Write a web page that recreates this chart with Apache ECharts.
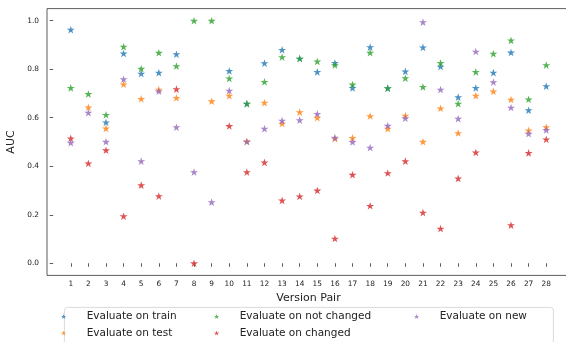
<!DOCTYPE html>
<html>
<head>
<meta charset="utf-8">
<script src="https://cdn.jsdelivr.net/npm/echarts@6/dist/echarts.min.js"></script>
<style>
  html, body { margin: 0; padding: 0; background: #fff; }
  #chart { width: 566px; height: 342px; }
</style>
</head>
<body>
<div id="chart"></div>
<script>
const versionPairs = [1, 2, 3, 4, 5, 6, 7, 8, 9, 10, 11, 12, 13, 14, 15, 16, 17, 18, 19, 20, 21, 22, 23, 24, 25, 26, 27, 28]
const yTicks = [0, 0.2, 0.4, 0.6, 0.8, 1.0]

const evalTrain = [0.963, null, 0.581, 0.865, 0.782, 0.786, 0.862, null, null, 0.793, 0.658, 0.825, 0.880, 0.844,
  0.789, 0.826, 0.723, 0.891, 0.722, 0.791, 0.890, 0.811, 0.685, 0.723, 0.786, 0.869, 0.631, 0.730]
const evalTest = [null, 0.643, 0.556, 0.738, 0.678, 0.716, 0.682, null, 0.668, 0.691, 0.503, 0.662, 0.576, 0.623,
  0.600, 0.514, 0.517, 0.607, 0.555, 0.609, 0.501, 0.639, 0.537, 0.691, 0.709, 0.675, 0.548, 0.561]
const evalNotChanged = [0.723, 0.698, 0.612, 0.893, 0.802, 0.868, 0.813, 1.0, 1.0, 0.762, 0.658, 0.748, 0.850, 0.844,
  0.832, 0.817, 0.737, 0.868, 0.722, 0.763, 0.727, 0.826, 0.658, 0.789, 0.864, 0.919, 0.676, 0.817]
const evalChanged = [0.515, 0.412, 0.466, 0.194, 0.322, 0.277, 0.718, 0.0, null, 0.566, 0.376, 0.416, 0.259, 0.276,
  0.300, 0.102, 0.365, 0.237, 0.372, 0.421, 0.209, 0.143, 0.350, 0.457, null, 0.157, 0.455, 0.511]
const evalNew = [0.497, 0.621, 0.501, 0.759, 0.421, 0.709, 0.561, 0.376, 0.252, 0.712, 0.501, 0.555, 0.588, 0.590,
  0.616, 0.518, 0.500, 0.477, 0.567, 0.598, 0.994, 0.716, 0.596, 0.873, 0.747, 0.642, 0.534, 0.550]

const STAR = 'path://M100,0 L122.45,69.1 L195.1,69.1 L136.3,111.8 L158.8,180.9 L100,138.2 L41.2,180.9 L63.7,111.8 L4.9,69.1 L77.55,69.1 Z'
const FONT = 'DejaVu Sans'

const seriesDefs = [
  { name: 'Evaluate on train', values: evalTrain, color: '#1f77b4' },
  { name: 'Evaluate on test', values: evalTest, color: '#ff7f0e' },
  { name: 'Evaluate on not changed', values: evalNotChanged, color: '#2ca02c' },
  { name: 'Evaluate on changed', values: evalChanged, color: '#d62728' },
  { name: 'Evaluate on new', values: evalNew, color: '#9467bd' },
]

// legend laid out like matplotlib ncol=3: one small legend per entry
const legendSpots = [
  { name: 'Evaluate on train', left: 61, top: 310.5 },
  { name: 'Evaluate on test', left: 61, top: 327 },
  { name: 'Evaluate on not changed', left: 214, top: 310.5 },
  { name: 'Evaluate on changed', left: 214, top: 327 },
  { name: 'Evaluate on new', left: 414, top: 310.5 },
]

const chart = echarts.init(document.getElementById('chart'))

const option = {
  animation: false,
  textStyle: { fontFamily: FONT },
  grid: {
    left: 47,
    top: 8.6,
    width: 523,
    height: 266.8,
    outerBoundsMode: 'none',
    show: true,
    borderColor: '#333',
    borderWidth: 0.8,
    backgroundColor: 'transparent',
  },
  xAxis: {
    type: 'value',
    min: -0.35,
    max: 29.35,
    name: 'Version Pair',
    nameLocation: 'middle',
    nameGap: 17,
    nameTextStyle: { fontSize: 11, color: '#222', fontFamily: FONT },
    axisLine: { show: false },
    splitLine: { show: false },
    axisTick: { show: true, length: 3.5, lineStyle: { color: '#333', width: 0.8 }, customValues: versionPairs },
    axisLabel: { fontSize: 7.4, color: '#222', margin: 5, customValues: versionPairs, fontFamily: FONT },
  },
  yAxis: {
    type: 'value',
    min: -0.05,
    max: 1.05,
    name: 'AUC',
    nameLocation: 'middle',
    nameGap: 24,
    nameTextStyle: { fontSize: 11, color: '#222', fontFamily: FONT },
    axisLine: { show: false },
    splitLine: { show: false },
    axisTick: { show: true, length: 3.5, lineStyle: { color: '#333', width: 0.8 }, customValues: yTicks },
    axisLabel: {
      fontSize: 7.4,
      color: '#222',
      margin: 8,
      fontFamily: FONT,
      customValues: yTicks,
      formatter: (v) => v.toFixed(1),
    },
  },
  legend: legendSpots.map((s) => ({
    data: [s.name],
    left: s.left,
    top: s.top,
    padding: 0,
    itemWidth: 36,
    itemHeight: 5,
    symbolKeepAspect: true,
    textStyle: { fontSize: 10.5, color: '#222', lineHeight: 12, fontFamily: FONT, padding: 0 },
    selectedMode: false,
  })),
  graphic: [
    {
      type: 'rect',
      left: 64,
      top: 307,
      shape: { width: 489, height: 50, r: 3 },
      style: { fill: 'rgba(255,255,255,0.8)', stroke: '#d0d0d0', lineWidth: 0.8 },
      z: 0,
    },
  ],
  series: seriesDefs.map((s) => ({
    name: s.name,
    type: 'scatter',
    symbol: STAR,
    symbolSize: 8,
    symbolKeepAspect: true,
    itemStyle: { color: s.color },
    data: versionPairs
      .map((v, i) => [v, s.values[i]])
      .filter((d) => d[1] !== null),
  })),
}

chart.setOption(option)
</script>
</body>
</html>
